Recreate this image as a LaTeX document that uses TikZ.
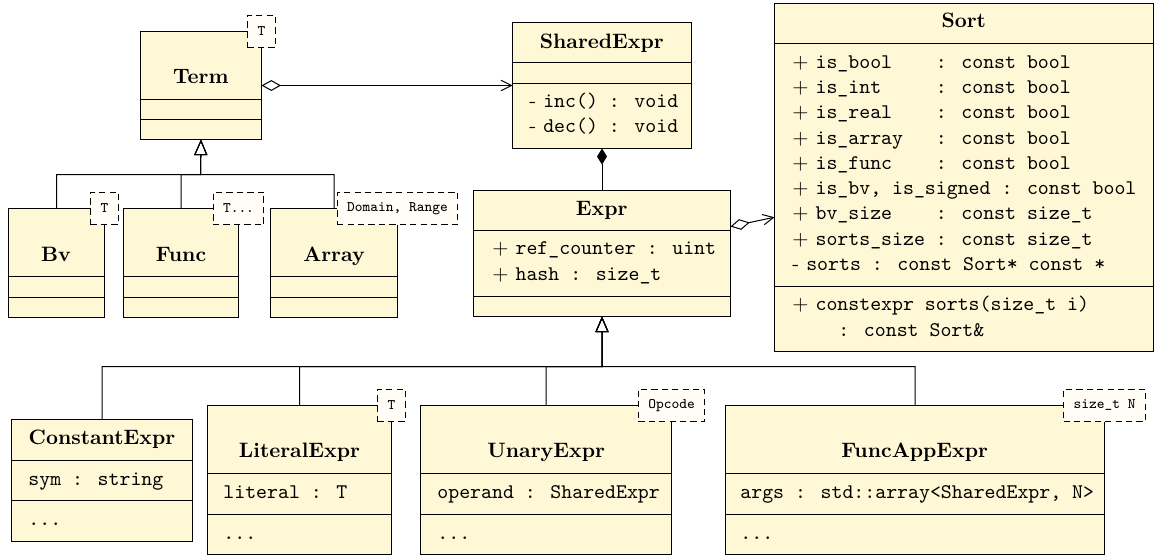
\documentclass[tikz,border=0pt]{standalone}
\usepackage{fontspec}
\usetikzlibrary{arrows.meta,fit}
\definecolor{classfill}{RGB}{255,248,214}
\definecolor{tplfill}{RGB}{255,253,246}
\newcommand{\umlpub}{$+$ }
\newcommand{\umlpriv}{- }
\begin{document}
\begin{tikzpicture}[x=0.48pt,y=-0.48pt,
  umlbox/.style={draw, fill=classfill, line width=0.48pt, inner sep=0pt, outer sep=0pt},
  sepline/.style={line width=0.48pt},
  clsname/.style={font=\bfseries, inner sep=0pt, text height=6.8pt, text depth=1.9pt},
  member/.style={anchor=west, inner sep=0pt, text height=6pt, text depth=1.5pt},
  tplbox/.style={draw, dash pattern=on 3pt off 2pt, fill=tplfill, line width=0.48pt,
    font=\ttfamily\scriptsize, inner xsep=4.8pt, inner ysep=0pt, minimum height=15.5pt},
  inherit/.style={-{Triangle[open,length=7.5pt,width=6.3pt]}, line width=0.48pt},
  agg/.style={{Diamond[open,length=9.4pt,width=5.2pt]}-{Straight Barb[length=5pt,width=5pt]}, line width=0.48pt},
  comp/.style={{Diamond[length=7.7pt,width=4.8pt]}-, line width=0.48pt}]
\useasboundingbox (0,0) rectangle (1155,557);

% ---------- Term and its subclasses ----------
\node[umlbox, fit={(140.5,31.5) (261.5,139.5)}] (term) {};
\draw[sepline] (140.5,99.5) -- (261.5,99.5);
\draw[sepline] (140.5,119.5) -- (261.5,119.5);
\node[clsname] (termname) at (200.8,78) {Term};

\node[umlbox, fit={(8.5,208.5) (104.5,317.5)}] (bv) {};
\draw[sepline] (8.5,276.5) -- (104.5,276.5);
\draw[sepline] (8.5,297.5) -- (104.5,297.5);
\node[clsname] (bvname) at (56,256) {Bv};

\node[umlbox, fit={(123.5,208.5) (238.5,317.5)}] (func) {};
\draw[sepline] (123.5,276.5) -- (238.5,276.5);
\draw[sepline] (123.5,297.5) -- (238.5,297.5);
\node[clsname] (funcname) at (181,256) {Func};

\node[umlbox, fit={(270.5,208.5) (397.5,317.5)}] (array) {};
\draw[sepline] (270.5,276.5) -- (397.5,276.5);
\draw[sepline] (270.5,297.5) -- (397.5,297.5);
\node[clsname] (arrayname) at (334,256) {Array};

% ---------- SharedExpr ----------
\node[umlbox, fit={(512.5,22.5) (691.5,148.5)}] (shared) {};
\draw[sepline] (512.5,62.5) -- (691.5,62.5);
\draw[sepline] (512.5,83.5) -- (691.5,83.5);
\node[clsname] (sharedname) at (601.8,43) {SharedExpr};
\node[member] (sharedm1) at (529,103.3) {\umlpriv\texttt{inc() : void}};
\node[member] (sharedm2) at (529,128.3) {\umlpriv\texttt{dec() : void}};

% ---------- Expr ----------
\node[umlbox, fit={(473.5,190.5) (730.5,316.5)}] (expr) {};
\draw[sepline] (473.5,230.5) -- (730.5,230.5);
\draw[sepline] (473.5,296.5) -- (730.5,296.5);
\node[clsname] (exprname) at (601.7,210) {Expr};
\node[member] (expra1) at (492,250) {\umlpub\texttt{ref\_counter : uint}};
\node[member] (expra2) at (492,275.5) {\umlpub\texttt{hash : size\_t}};

% ---------- Sort ----------
\node[umlbox, fit={(774.5,3.5) (1153.5,351.5)}] (sort) {};
\draw[sepline] (774.5,43.5) -- (1153.5,43.5);
\draw[sepline] (774.5,286.5) -- (1153.5,286.5);
\node[clsname] (sortname) at (963.8,22.5) {Sort};
\node[member] (sorta1) at (792,63.5) {\umlpub\texttt{is\_bool\ \ \ \ : const bool}};
\node[member] (sorta2) at (792,88.8) {\umlpub\texttt{is\_int\ \ \ \ \ : const bool}};
\node[member] (sorta3) at (792,114.1) {\umlpub\texttt{is\_real\ \ \ \ : const bool}};
\node[member] (sorta4) at (792,139.4) {\umlpub\texttt{is\_array\ \ \ : const bool}};
\node[member] (sorta5) at (792,164.7) {\umlpub\texttt{is\_func\ \ \ \ : const bool}};
\node[member] (sorta6) at (792,190) {\umlpub\texttt{is\_bv, is\_signed : const bool}};
\node[member] (sorta7) at (792,215.3) {\umlpub\texttt{bv\_size\ \ \ \ : const size\_t}};
\node[member] (sorta8) at (792,240.6) {\umlpub\texttt{sorts\_size : const size\_t}};
\node[member] (sorta9) at (792,265.9) {\umlpriv\texttt{sorts : const Sort* const *}};
\node[member] (sortm1) at (792,306) {\umlpub\texttt{constexpr sorts(size\_t i)}};
\node[member] (sortm1b) at (838,331.5) {\texttt{: const Sort\&}};

% ---------- Expr subclasses ----------
\node[umlbox, fit={(11.5,419.5) (192.5,541.5)}] (constexpr) {};
\draw[sepline] (11.5,460.5) -- (192.5,460.5);
\draw[sepline] (11.5,500.5) -- (192.5,500.5);
\node[clsname] (constname) at (102,439) {ConstantExpr};
\node[member] (consta1) at (28,480.4) {\texttt{sym : string}};
\node[member] (constm1) at (28,520.9) {\texttt{...}};

\node[umlbox, fit={(207.5,405.5) (391.5,554.5)}] (litexpr) {};
\draw[sepline] (207.5,473.5) -- (391.5,473.5);
\draw[sepline] (207.5,514.5) -- (391.5,514.5);
\node[clsname] (litname) at (299.5,452.5) {LiteralExpr};
\node[member] (lita1) at (223,494) {\texttt{literal : T}};
\node[member] (litm1) at (223,534.5) {\texttt{...}};

\node[umlbox, fit={(420.5,405.5) (671.5,554.5)}] (unexpr) {};
\draw[sepline] (420.5,473.5) -- (671.5,473.5);
\draw[sepline] (420.5,514.5) -- (671.5,514.5);
\node[clsname] (unname) at (546.2,452.5) {UnaryExpr};
\node[member] (una1) at (437,494) {\texttt{operand : SharedExpr}};
\node[member] (unm1) at (437,534.5) {\texttt{...}};

\node[umlbox, fit={(725.5,405.5) (1104.5,554.5)}] (funcexpr) {};
\draw[sepline] (725.5,473.5) -- (1104.5,473.5);
\draw[sepline] (725.5,514.5) -- (1104.5,514.5);
\node[clsname] (funcexprname) at (914.7,452.5) {FuncAppExpr};
\node[member] (funca1) at (740,494) {\texttt{args : std::array<SharedExpr, N>}};
\node[member] (funcm1) at (740,534.5) {\texttt{...}};

% ---------- template parameters ----------
\node[tplbox] (termtpl) at (term.north east) {T};
\node[tplbox] (bvtpl) at (bv.north east) {T};
\node[tplbox] (functpl) at (func.north east) {T...};
\node[tplbox] (arraytpl) at (array.north east) {Domain, Range};
\node[tplbox] (littpl) at (litexpr.north east) {T};
\node[tplbox] (untpl) at (unexpr.north east) {Opcode};
\node[tplbox] (funcexprtpl) at (funcexpr.north east) {size\_t N};

% ---------- relations ----------
\coordinate (termbus) at (200.5,174.5);
\draw[inherit] (bv.north) |- (termbus) -- (term.south);
\draw[inherit] (func.north) |- (termbus) -- (term.south);
\draw[inherit] (array.north) |- (termbus) -- (term.south);

\coordinate (exprbus) at (602,366.5);
\draw[inherit] (constexpr.north) |- (exprbus) -- (expr.south);
\draw[inherit] (litexpr.north) |- (exprbus) -- (expr.south);
\draw[inherit] (unexpr.north) |- (exprbus) -- (expr.south);
\draw[inherit] (funcexpr.north) |- (exprbus) -- (expr.south);

\draw[agg] (term) -- (shared);
\draw[comp] (shared) -- (expr);
\draw[agg] (expr) -- (sort);
\end{tikzpicture}
\end{document}
